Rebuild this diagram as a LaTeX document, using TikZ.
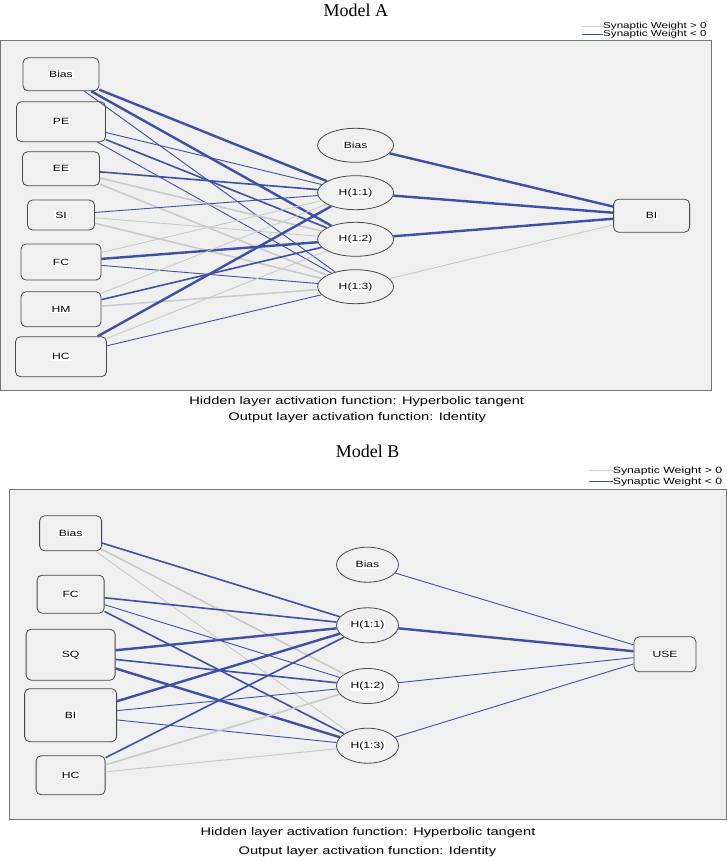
\documentclass[tikz,border=0pt]{standalone}
\usepackage{fontspec}
\usepackage{tikz}
\usetikzlibrary{shapes.geometric}
\setmainfont{Liberation Serif}
\newfontfamily\spss[FakeStretch=1.35]{Liberation Sans}
\newfontfamily\spsscap[FakeStretch=1.33]{Liberation Sans}
\definecolor{negblue}{RGB}{60,80,168}
\definecolor{posgray}{RGB}{202,202,202}
\definecolor{panel}{RGB}{240,240,240}
\definecolor{rim}{RGB}{118,118,118}
\newcommand{\wlab}[1]{{\setlength{\fboxsep}{0.8pt}\colorbox{white}{#1}}}

\begin{document}
\begin{tikzpicture}[x=1pt,y=-1pt,
	unit/.style={draw=black!72, fill=panel, rounded corners=5pt, line width=0.8pt, inner sep=0pt, font=\spss\fontsize{9}{10}\selectfont},
	hid/.style={ellipse, draw=black!72, fill=panel, line width=0.8pt, inner sep=0pt, font=\spss\fontsize{9}{10}\selectfont},
	legend/.style={anchor=west, inner sep=0pt, font=\spss\fontsize{8.6}{9}\selectfont},
	caption/.style={inner sep=0pt, font=\spsscap\fontsize{11}{12}\selectfont},
	title/.style={inner sep=0pt, font=\fontsize{18}{20}\selectfont},
	neg1/.style={negblue, line width=0.9pt},
	neg2/.style={negblue, line width=1.6pt},
	neg3/.style={negblue, line width=2.4pt},
	pos1/.style={posgray, line width=0.9pt},
	pos2/.style={posgray, line width=1.6pt},
	pos3/.style={posgray, line width=2.4pt}]
	\useasboundingbox (0,0) rectangle (727,861);
	
	% ---------------- Model A ----------------
	\node[title] (aTitle) at (355.8,10.5) {Model A};
	\draw[rim, fill=panel, line width=0.8pt] (0.5,40.7) rectangle (711.6,390.5);
	
	% legend
	\coordinate (aLegPs) at (582,26);
	\coordinate (aLegNs) at (582,34);
	\node[legend] (aLegP) at (603,26) {Synaptic Weight > 0};
	\node[legend] (aLegN) at (603,34) {Synaptic Weight < 0};
	\draw[posgray, line width=0.8pt] (aLegPs) -- (aLegP.west);
	\draw[negblue, line width=0.8pt] (aLegNs) -- (aLegN.west);
	
	% input layer
	\foreach \name/\y/\w/\h/\txt in
	{aBias/74.3/76/33/Bias, aPE/121.7/89/40/PE, aEE/168.7/77/34/EE, aSI/215/67/30/SI,
		aFC/262/80/36/FC, aHM/309.2/80/35/HM, aHC/356.7/91/40/HC}{
		\node[unit, minimum width=\w, minimum height=\h] (\name) at (61,\y) {\wlab{\txt}};
	}
	
	% hidden layer
	\foreach \name/\y/\txt in
	{aHB/145.3/Bias, aH1/192.7/H(1:1), aH2/239.3/H(1:2), aH3/286.7/H(1:3)}{
		\node[hid, minimum width=76, minimum height=34] (\name) at (355.6,\y) {\wlab{\txt}};
	}
	
	% output layer
	\node[unit, minimum width=76, minimum height=33] (aBI) at (651.6,215.7) {\wlab{BI}};
	
	% weights
	\foreach \a/\b/\s in
	{aBias/aH1/neg3, aBias/aH2/neg3, aBias/aH3/neg1,
		aPE/aH1/neg1, aPE/aH2/neg2, aPE/aH3/neg1,
		aEE/aH1/neg2, aEE/aH2/pos2, aEE/aH3/pos2,
		aSI/aH1/neg1, aSI/aH2/pos1, aSI/aH3/pos2,
		aFC/aH1/pos1, aFC/aH2/neg3, aFC/aH3/neg1,
		aHM/aH1/pos1, aHM/aH2/neg2, aHM/aH3/pos2,
		aHC/aH1/neg3, aHC/aH2/pos1, aHC/aH3/neg1,
		aHB/aBI/neg3, aH1/aBI/neg3, aH2/aBI/neg3, aH3/aBI/pos1}{
		\draw[\s] (\a) -- (\b);
	}
	
	\node[caption] (aCap1) at (356.7,401.7) {Hidden layer activation function: Hyperbolic tangent};
	\node[caption] (aCap2) at (357.2,417.3) {Output layer activation function: Identity};
	
	% ---------------- Model B ----------------
	\node[title] (bTitle) at (367.7,451.7) {Model B};
	\draw[rim, fill=panel, line width=0.8pt] (9.3,489.3) rectangle (726.6,819.3);
	
	% legend
	\coordinate (bLegPs) at (588.5,470.7);
	\coordinate (bLegNs) at (588.5,481.7);
	\node[legend, font=\spss\fontsize{9.1}{10}\selectfont] (bLegP) at (612.6,470.7) {Synaptic Weight > 0};
	\node[legend, font=\spss\fontsize{9.1}{10}\selectfont] (bLegN) at (612.6,481.7) {Synaptic Weight < 0};
	\draw[posgray, line width=0.8pt] (bLegPs) -- (bLegP.west);
	\draw[negblue, line width=0.8pt] (bLegNs) -- (bLegN.west);
	
	% input layer
	\foreach \name/\y/\w/\h/\txt in
	{bBias/533.3/62/35/Bias, bFC/594.2/67/38/FC, bSQ/654.7/89/51/SQ,
		bBI/715.2/92/53/BI, bHC/775.3/69/39/HC}{
		\node[unit, minimum width=\w, minimum height=\h] (\name) at (70.6,\y) {\wlab{\txt}};
	}
	
	% hidden layer
	\foreach \name/\y/\txt in
	{bHB/564.7/Bias, bH1/625.3/H(1:1), bH2/686/H(1:2), bH3/745.7/H(1:3)}{
		\node[hid, minimum width=62, minimum height=35] (\name) at (367.5,\y) {\wlab{\txt}};
	}
	
	% output layer
	\node[unit, minimum width=62, minimum height=35] (bUSE) at (665,654.3) {\wlab{USE}};
	
	% weights
	\foreach \a/\b/\s in
	{bBias/bH1/neg2, bBias/bH2/pos2, bBias/bH3/pos1,
		bFC/bH1/neg2, bFC/bH2/neg1, bFC/bH3/neg2,
		bSQ/bH1/neg3, bSQ/bH2/neg2, bSQ/bH3/neg3,
		bBI/bH1/neg3, bBI/bH2/neg1, bBI/bH3/neg1,
		bHC/bH1/neg2, bHC/bH2/pos2, bHC/bH3/pos1,
		bHB/bUSE/neg1, bH1/bUSE/neg3, bH2/bUSE/neg1, bH3/bUSE/neg1}{
		\draw[\s] (\a) -- (\b);
	}
	
	\node[caption] (bCap1) at (368,832.3) {Hidden layer activation function: Hyperbolic tangent};
	\node[caption] (bCap2) at (367.4,851.7) {Output layer activation function: Identity};
\end{tikzpicture}
\end{document}
